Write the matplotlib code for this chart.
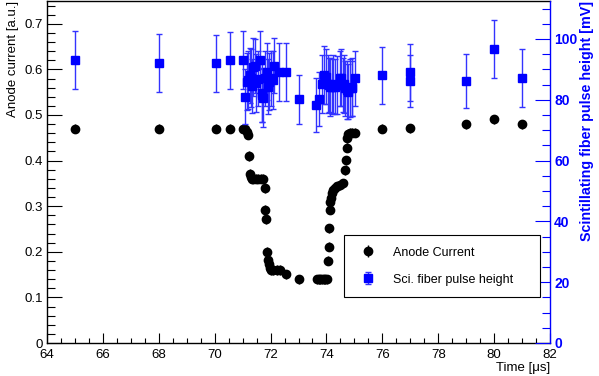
import matplotlib
matplotlib.use("Agg")
import matplotlib.pyplot as plt
from matplotlib.ticker import MultipleLocator, FuncFormatter

plt.rcParams['font.family'] = ['Liberation Sans', 'DejaVu Sans']

# Anode current (left axis)
anode_t = [65, 68, 70.04, 70.54, 71.03, 71.09, 71.15, 71.2, 71.24, 71.27, 71.29, 71.33,
           71.38, 71.48, 71.56, 71.66, 71.74, 71.8, 71.81, 71.83, 71.88, 71.91, 71.93,
           71.98, 72.03, 72.1, 72.22, 72.34, 72.54, 73.03, 73.66, 73.72, 73.78, 73.84,
           73.9, 73.96, 74.02, 74.07, 74.09, 74.1, 74.13, 74.14, 74.16, 74.19, 74.25,
           74.31, 74.39, 74.49, 74.58, 74.67, 74.7, 74.73, 74.75, 74.78, 74.84, 74.92,
           75.02, 76, 77, 79, 80, 81]
anode_v = [0.47, 0.47, 0.47, 0.47, 0.47, 0.469, 0.463, 0.457, 0.41, 0.371, 0.363, 0.36,
           0.36, 0.36, 0.36, 0.36, 0.36, 0.34, 0.292, 0.271, 0.20, 0.182, 0.173,
           0.164, 0.159, 0.159, 0.16, 0.16, 0.151, 0.14, 0.14, 0.14, 0.14, 0.14,
           0.14, 0.14, 0.14, 0.18, 0.211, 0.252, 0.292, 0.31, 0.319, 0.328, 0.336,
           0.341, 0.344, 0.346, 0.35, 0.379, 0.401, 0.428, 0.449, 0.458, 0.461, 0.461,
           0.461, 0.47, 0.471, 0.48, 0.491, 0.48]
anode_err = [0.01] * len(anode_t)

# Scintillating fiber pulse height (right axis, mV)
fiber_t = [65, 68, 70.04, 70.54, 71.03, 71.09, 71.15, 71.2, 71.25, 71.3, 71.34, 71.38,
           71.44, 71.48, 71.55, 71.62, 71.68, 71.71, 71.74, 71.8, 71.86, 71.9, 71.95,
           72.02, 72.08, 72.13, 72.3, 72.54, 73.03, 73.63, 73.73, 73.83, 73.9, 73.97,
           74.05, 74.1, 74.13, 74.19, 74.25, 74.3, 74.37, 74.49, 74.52, 74.58, 74.64,
           74.67, 74.73, 74.78, 74.84, 74.9, 74.93, 75.03, 76, 77, 77, 79, 80, 81]
fiber_v = [93.1, 92.1, 92.0, 93.0, 93.1, 81.0, 86.0, 86.5, 88.0, 87.1, 84.5, 90.9,
           91.1, 85.5, 87.0, 93.1, 82.3, 81.6, 80.5, 87.1, 89.3, 84.3, 86.0,
           87.1, 86.5, 91.2, 89.2, 89.2, 80.2, 78.2, 80.3, 85.1, 88.2, 87.6,
           85.1, 84.9, 84.3, 84.3, 85.1, 84.3, 84.9, 87.1, 87.3, 84.9, 85.1,
           83.8, 83.2, 82.7, 83.8, 83.8, 84.3, 87.1, 88.0, 89.0, 86.2, 86.2, 96.7, 87.2]
fiber_err = [9.5, 9.5, 9.3, 9.3, 9.5, 9.0, 9.5, 9.5, 9.0, 9.5, 9.0, 9.5,
             9.0, 9.5, 9.0, 9.5, 9.5, 9.0, 9.5, 9.0, 9.5, 9.0, 9.5,
             9.0, 9.5, 9.0, 9.5, 9.5, 8.0, 8.9, 9.0, 9.5, 9.5, 9.0,
             9.5, 9.0, 9.5, 9.0, 9.5, 9.0, 9.5, 9.0, 9.5, 9.0, 9.5,
             9.0, 9.5, 9.0, 9.5, 9.0, 9.5, 9.0, 9.5, 9.5, 8.5, 9.0, 9.5, 9.5]

fig = plt.figure(figsize=(5.99, 3.76), dpi=100)
ax = fig.add_axes([47/599, 33/376, 503/599, 342/376])
ax2 = ax.twinx()

# Left axis data
h1 = ax.errorbar(anode_t, anode_v, yerr=anode_err, fmt='o', color='black', ms=6,
                 elinewidth=1, capsize=0, label='Anode Current')
ax.set_xlim(64, 82)
ax.set_ylim(0, 0.75)
ax.xaxis.set_major_locator(MultipleLocator(2))
ax.xaxis.set_minor_locator(MultipleLocator(0.5))
ax.yaxis.set_major_locator(MultipleLocator(0.1))
ax.yaxis.set_minor_locator(MultipleLocator(0.02))
ax.yaxis.set_major_formatter(FuncFormatter(lambda v, p: '0' if abs(v) < 1e-9 else f'{v:.1f}'))
ax.tick_params(axis='x', which='major', direction='in', length=7.2, width=0.8, labelsize=9.5, pad=4, top=False)
ax.tick_params(axis='x', which='minor', direction='in', length=3.6, width=0.8, top=False)
ax.tick_params(axis='y', which='major', direction='in', length=10.8, width=0.8, labelsize=9.5, pad=3, right=False)
ax.tick_params(axis='y', which='minor', direction='in', length=5.5, width=0.8, right=False)
ax.set_xlabel('Time [\u03bcs]', loc='right', fontsize=9.5, labelpad=1)
ax.set_ylabel('Anode current [a.u.]', loc='top', fontsize=9.5, labelpad=4)
ax.spines['right'].set_visible(False)
for s in ['left', 'bottom', 'top']:
    ax.spines[s].set_linewidth(1.0)

# Right axis data
h2 = ax2.errorbar(fiber_t, fiber_v, yerr=fiber_err, fmt='s', color='#0000ff', ms=6.3,
                  elinewidth=1, capsize=2, capthick=1, ecolor='#3333ff',
                  label='Sci. fiber pulse height')
ax2.set_ylim(0, 112.5)
ax2.yaxis.set_major_locator(MultipleLocator(20))
ax2.yaxis.set_minor_locator(MultipleLocator(5))
ax2.tick_params(axis='y', which='major', direction='in', length=10.8, width=0.8, colors='#0000ff',
                labelsize=10, pad=3)
ax2.tick_params(axis='y', which='minor', direction='in', length=5.5, width=0.8, colors='#0000ff')
for lab in ax2.get_yticklabels():
    lab.set_fontweight('bold')
ax2.set_ylabel('Scintillating fiber pulse height [mV]', loc='top', color='#0000ff',
               fontsize=10.3, fontweight='bold', labelpad=2)
ax2.spines['right'].set_color('#0000ff')
ax2.spines['right'].set_linewidth(1.0)
for s in ['left', 'bottom', 'top']:
    ax2.spines[s].set_visible(False)

leg = ax2.legend([h1, h2], ['Anode Current', 'Sci. fiber pulse height'],
                 loc='lower left', bbox_to_anchor=(0.59, 0.135, 0.39, 0.181), mode='expand',
                 borderaxespad=0, fontsize=9, frameon=True, fancybox=False,
                 edgecolor='black', framealpha=1, labelspacing=1.2, handletextpad=1.0,
                 borderpad=0.9)
leg.get_frame().set_linewidth(0.8)

fig.savefig('out.png', dpi=100)
